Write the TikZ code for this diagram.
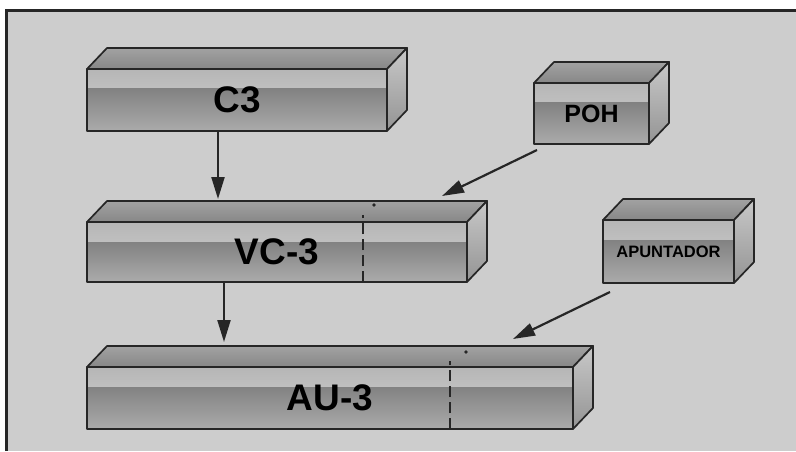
\documentclass[tikz,border=0pt]{standalone}
\usepackage{fontspec}
\setmainfont{Liberation Sans}
\usetikzlibrary{arrows.meta, positioning, calc}
\definecolor{fondo}{HTML}{CDCDCD}
\definecolor{marco}{HTML}{262626}
\definecolor{clarosup}{HTML}{B6B6B6}
\definecolor{clarosupb}{HTML}{D2D2D2}
\definecolor{oscuroinf}{HTML}{828282}
\definecolor{oscuroinfb}{HTML}{ABABAB}
\definecolor{tapa}{HTML}{878787}
\definecolor{tapab}{HTML}{A2A2A2}
\definecolor{lado}{HTML}{C8C8C8}
\definecolor{ladob}{HTML}{949494}
\newcommand{\caras}[1]{%
  \draw[tapa3d] (#1.north west) -- ++(20,21) -- ($(#1.north east)+(20,21)$) -- (#1.north east) -- cycle;
  \draw[lado3d] (#1.north east) -- ++(20,21) -- ($(#1.south east)+(20,21)$) -- (#1.south east) -- cycle;}

\begin{document}
\begin{tikzpicture}[x=1pt, y=1pt,
    franjas/.style={path picture={
        \shade[top color=clarosup, bottom color=clarosupb]
          (path picture bounding box.north west) rectangle ([yshift=-20pt]path picture bounding box.north east);
        \shade[top color=oscuroinf, bottom color=oscuroinfb]
          ([yshift=-20pt]path picture bounding box.north west) rectangle (path picture bounding box.south east);}},
    caja/.style={draw=marco, line width=1.7pt, line join=round, inner sep=0pt, outer sep=0pt,
                 franjas, text=black},
    txtgrande/.style={font=\fontsize{37}{40}\selectfont\bfseries},
    tapa3d/.style={draw=marco, line width=1.7pt, line join=round, top color=tapab, bottom color=tapa},
    lado3d/.style={draw=marco, line width=1.7pt, line join=round, top color=lado, bottom color=ladob},
    flecha/.style={-{Triangle[length=22pt, width=13pt]}, line width=2.2pt, marco},
    corte/.style={dash pattern=on 11pt off 5pt, line width=2.2pt, marco}
  ]
  \useasboundingbox (0,0) rectangle (796,451);
  \fill[fondo] (6,0) rectangle (796,440);
  \draw[line width=3pt, marco] (6.5,0) -- (6.5,440.5) -- (796,440.5);

  \node[caja, txtgrande, minimum width=300pt, minimum height=62pt] (c3) at (237,351) {C3};
  \node[caja, font=\fontsize{25}{28}\selectfont\bfseries, minimum width=115pt, minimum height=61pt] (poh) at (591.5,337.5) {POH};
  \node[caja, txtgrande, minimum width=380pt, minimum height=60pt] (vc3) at (277,199) {VC-3};
  \node[caja, font=\fontsize{16.5}{18}\selectfont\bfseries, minimum width=131pt, minimum height=63pt] (apu) at (668.5,199.5) {APUNTADOR};
  \node[caja, txtgrande, minimum width=486pt, minimum height=62pt] (au3) at (330,53) {AU-3};
  \foreach \n in {c3, poh, vc3, apu, au3} {\caras{\n}}

  % marcas de puntero
  \draw[corte] ([xshift=276pt]vc3.south west) -- ([xshift=276pt, yshift=7pt]vc3.north west);
  \fill[marco] ([shift={(287pt,17pt)}]vc3.north west) circle (1.8pt);
  \draw[corte] ([xshift=363pt]au3.south west) -- ([xshift=363pt, yshift=6pt]au3.north west);
  \fill[marco] ([shift={(379pt,15pt)}]au3.north west) circle (1.8pt);

  \draw[flecha] ([xshift=-19pt]c3.south) -- ([shift={(-59pt,23pt)}]vc3.north);
  \draw[flecha] ([shift={(3pt,-6pt)}]poh.south west) -- ([shift={(165pt,26pt)}]vc3.north);
  \draw[flecha] ([xshift=-53pt]vc3.south) -- ([shift={(-106pt,25pt)}]au3.north);
  \draw[flecha] ([shift={(7pt,-9pt)}]apu.south west) -- ([shift={(183pt,28pt)}]au3.north);
\end{tikzpicture}
\end{document}
